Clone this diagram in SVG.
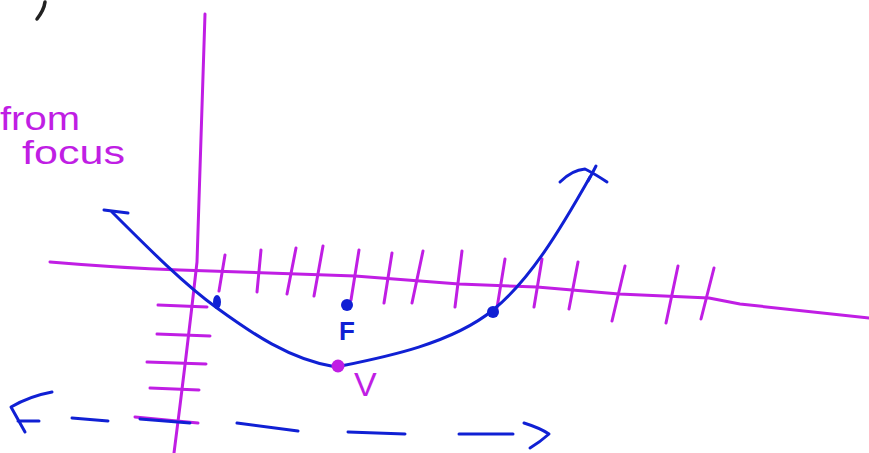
<svg xmlns="http://www.w3.org/2000/svg" width="869" height="453" viewBox="0 0 869 453">
<style>
.m{fill:none;stroke:#c01ee4;stroke-width:3;stroke-linecap:round;stroke-linejoin:round}
.b{fill:none;stroke:#1020d4;stroke-width:3;stroke-linecap:round;stroke-linejoin:round}
.k{fill:none;stroke:#222;stroke-width:3.5;stroke-linecap:round}
.tm{fill:#c01ee4;font-family:"Liberation Sans",Arial,sans-serif}
.tb{fill:#1020d4;font-family:"Liberation Sans",Arial,sans-serif}
</style>
<rect width="869" height="453" fill="#fff"/>
<path class="k" d="M45,2 Q44,10 37,19"/>
<g id="label-from-focus">
<text class="tm" x="0" y="130" font-size="34" textLength="80" lengthAdjust="spacingAndGlyphs">from</text>
<text class="tm" x="22" y="164" font-size="34" textLength="103" lengthAdjust="spacingAndGlyphs">focus</text>
</g>
<g id="y-axis">
<path class="m" d="M205,14 Q201,140 197,262 Q186,360 174,453"/>
<path class="m" d="M158,305 L207,307 M157,334 L210,336 M147,362 L206,364 M150,388 L199,390 M135,417 L198,423"/>
</g>
<g id="x-axis">
<path class="m" d="M50,262 Q120,268 180,270 L355,276 L459,284 L537,287 L619,294 L709,298 L740,304 L869,318"/>
<path class="m" d="M225,255 L219,291 M261,250 L257,292 M296,248 L287,294 M323,246 L314,296 M359,250 L351,300 M392,253 L384,303 M423,251 L412,303 M462,251 L455,307 M505,259 L496,314 M542,259 L534,307 M578,262 L569,309 M625,266 L612,321 M678,266 L666,323 M714,268 L701,319"/>
</g>
<g id="parabola">
<path class="b" d="M112,212 C150,250 185,285 217,308 C250,332 290,360 336,367 C380,358 450,345 493,310 C530,280 560,230 590,177"/>
<path class="b" d="M104,210 L128,213"/>
<path class="b" d="M560,182 Q572,170 585,169 Q595,174 607,182 M596,166 Q592,174 588,181"/>
</g>
<g id="points">
<ellipse cx="217" cy="302" rx="4" ry="7" fill="#1020d4"/>
<circle cx="347" cy="305" r="6" fill="#1020d4"/>
<circle cx="493" cy="312" r="6" fill="#1020d4"/>
<circle cx="338" cy="366" r="6.5" fill="#c01ee4"/>
</g>
<g id="labels">
<text class="tb" x="339" y="340" font-size="26" font-weight="bold">F</text>
<text class="tm" x="354" y="396" font-size="34">V</text>
</g>
<g id="dashed-arrow">
<path class="b" d="M52,392 Q30,396 11,407 L25,432 M18,421 L39,421"/>
<path class="b" d="M72,418 L108,421 M140,419 L190,423 M237,423 L298,431 M348,432 L405,434 M459,434 L513,434"/>
<path class="b" d="M524,423 Q540,428 549,434 Q540,442 530,448"/>
</g>
</svg>
